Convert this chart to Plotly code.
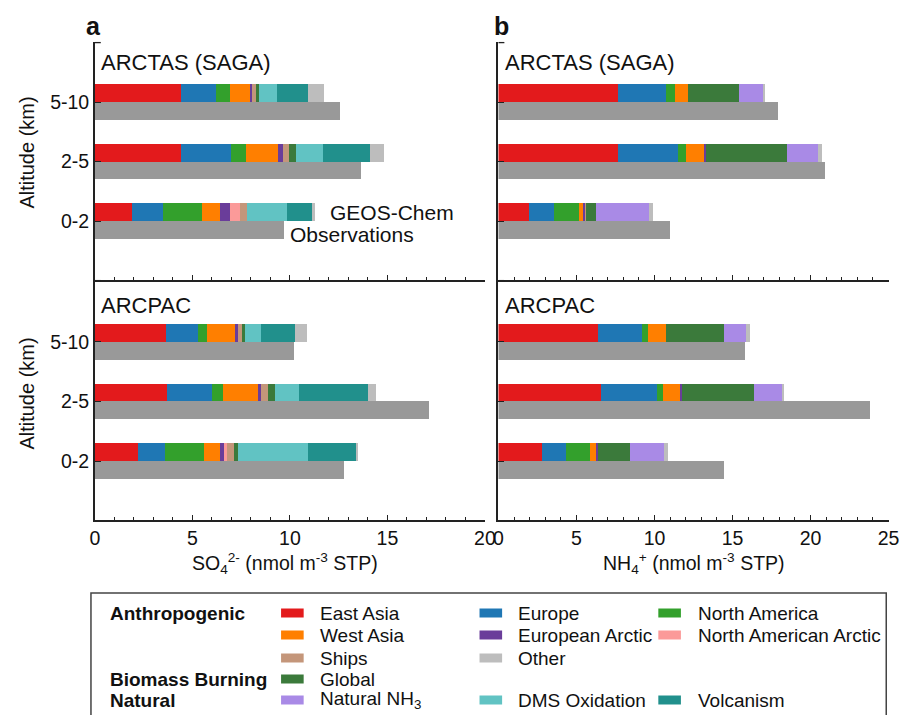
import plotly.graph_objects as go

W, H = 911, 715

ALTITUDES = ["0-2", "2-5", "5-10"]

SOURCES = ["East Asia", "Europe", "North America", "West Asia", "European Arctic",
           "North American Arctic", "Ships", "Global", "Natural NH3", "DMS Oxidation",
           "Volcanism", "Other"]

COLORS = {
    "East Asia": "#e31a1c", "Europe": "#1f77b4", "North America": "#33a02c",
    "West Asia": "#ff7f00", "European Arctic": "#6a3d9a", "North American Arctic": "#fb9a99",
    "Ships": "#c4967a", "Other": "#bdbdbd", "Global": "#3b7a3b",
    "Natural NH3": "#a98ae6", "DMS Oxidation": "#61c3c3", "Volcanism": "#21908c",
}
OBS_COLOR = "#999999"

# values per altitude bin [0-2, 2-5, 5-10], nmol m-3 STP
SO4_ARCTAS = {
    "East Asia": [1.89, 4.42, 4.43], "Europe": [1.60, 2.57, 1.76],
    "North America": [2.02, 0.74, 0.72], "West Asia": [0.92, 1.63, 1.04],
    "European Arctic": [0.50, 0.27, 0.09], "North American Arctic": [0.50, 0.0, 0.0],
    "Ships": [0.35, 0.32, 0.25], "Global": [0.0, 0.35, 0.10],
    "Natural NH3": [0.0, 0.0, 0.0], "DMS Oxidation": [2.07, 1.41, 0.94],
    "Volcanism": [1.29, 2.37, 1.60], "Other": [0.12, 0.76, 0.81],
}
SO4_ARCTAS_OBS = [9.70, 13.66, 12.58]

SO4_ARCPAC = {
    "East Asia": [2.23, 3.70, 3.64], "Europe": [1.34, 2.28, 1.63],
    "North America": [2.00, 0.57, 0.45], "West Asia": [0.82, 1.79, 1.51],
    "European Arctic": [0.25, 0.17, 0.09], "North American Arctic": [0.12, 0.0, 0.0],
    "Ships": [0.38, 0.35, 0.22], "Global": [0.19, 0.35, 0.15],
    "Natural NH3": [0.0, 0.0, 0.0], "DMS Oxidation": [3.59, 1.24, 0.81],
    "Volcanism": [2.44, 3.53, 1.73], "Other": [0.12, 0.45, 0.65],
}
SO4_ARCPAC_OBS = [12.79, 17.15, 10.22]

NH4_ARCTAS = {
    "East Asia": [1.99, 7.66, 7.70], "Europe": [1.58, 3.89, 3.06],
    "North America": [1.60, 0.52, 0.57], "West Asia": [0.32, 1.12, 0.82],
    "European Arctic": [0.09, 0.13, 0.0], "North American Arctic": [0.0, 0.0, 0.0],
    "Ships": [0.06, 0.0, 0.0], "Global": [0.65, 5.23, 3.28],
    "Natural NH3": [3.42, 1.97, 1.54], "DMS Oxidation": [0.0, 0.0, 0.0],
    "Volcanism": [0.0, 0.0, 0.0], "Other": [0.23, 0.25, 0.16],
}
NH4_ARCTAS_OBS = [11.02, 20.95, 17.94]

NH4_ARCPAC = {
    "East Asia": [2.85, 6.63, 6.40], "Europe": [1.49, 3.55, 2.84],
    "North America": [1.56, 0.42, 0.38], "West Asia": [0.40, 1.11, 1.12],
    "European Arctic": [0.11, 0.11, 0.0], "North American Arctic": [0.0, 0.0, 0.0],
    "Ships": [0.0, 0.0, 0.0], "Global": [2.04, 4.62, 3.74],
    "Natural NH3": [2.19, 1.79, 1.43], "DMS Oxidation": [0.0, 0.0, 0.0],
    "Volcanism": [0.0, 0.0, 0.0], "Other": [0.25, 0.05, 0.23],
}
NH4_ARCPAC_OBS = [14.49, 23.87, 15.81]

LEGEND_ROWS = [
    ("Anthropogenic", ["East Asia", "Europe", "North America"]),
    ("", ["West Asia", "European Arctic", "North American Arctic"]),
    ("", ["Ships", "Other"]),
    ("Biomass Burning", ["Global"]),
    ("Natural", ["Natural NH3", "DMS Oxidation", "Volcanism"]),
]
LEGEND_LABELS = {"Natural NH3": "Natural NH<sub>3</sub>"}

FONT = "Liberation Sans, Arial, sans-serif"


def px(x):
    return x / W


def py(y):
    return 1 - y / H


fig = go.Figure()
panels = [
    ("x", "y", SO4_ARCTAS, SO4_ARCTAS_OBS),
    ("x2", "y2", SO4_ARCPAC, SO4_ARCPAC_OBS),
    ("x3", "y3", NH4_ARCTAS, NH4_ARCTAS_OBS),
    ("x4", "y4", NH4_ARCPAC, NH4_ARCPAC_OBS),
]
pos = list(range(len(ALTITUDES)))
for xa, ya, comp, obs in panels:
    for s in SOURCES:
        fig.add_trace(go.Bar(
            x=comp[s], y=[p + 0.15 for p in pos], orientation="h", width=0.3,
            marker=dict(color=COLORS[s], line=dict(width=0)), name=s,
            xaxis=xa, yaxis=ya, showlegend=False))
    fig.add_trace(go.Bar(
        x=obs, y=[p - 0.15 for p in pos], orientation="h", width=0.3,
        marker=dict(color=OBS_COLOR, line=dict(width=0)), name="Observations",
        xaxis=xa, yaxis=ya, showlegend=False))

XA = [px(91.5), px(488.5)]
XB = [px(502.3), px(899.3)]
YT = [py(280), py(42)]
YB = [py(520), py(280)]

axcol = "#222222"


def xaxis(domain, anchor, rng, labels):
    return dict(domain=domain, anchor=anchor, range=rng, showline=True, linecolor=axcol,
                linewidth=1.6, ticks="inside", ticklen=5, tickwidth=1.3, tickcolor=axcol,
                dtick=5, tick0=0, showgrid=False, zeroline=False, showticklabels=labels,
                tickfont=dict(size=19.5, color="#111"), fixedrange=True,
                minor=dict(dtick=1, ticks="inside", ticklen=3, tickwidth=1.2, tickcolor=axcol,
                           showgrid=False))


def yaxis(domain, anchor, rng, labels):
    return dict(domain=domain, anchor=anchor, range=rng, showline=True, linecolor=axcol,
                linewidth=1.6, ticks="inside", ticklen=6, tickwidth=1.3, tickcolor=axcol,
                tickvals=pos, ticktext=ALTITUDES, showticklabels=labels,
                showgrid=False, zeroline=False, tickfont=dict(size=19.5, color="#111"),
                fixedrange=True)


shapes = []
annotations = []

# small hooks at the top of each y axis
for xd in (XA, XB):
    for ytop in (42, 280):
        shapes.append(dict(type="line", xref="paper", yref="paper", x0=xd[0], x1=xd[0] + px(6),
                           y0=py(ytop + 0.6), y1=py(ytop + 0.6), line=dict(color=axcol, width=1.3)))

# legend box
shapes.append(dict(type="rect", xref="paper", yref="paper", x0=px(87.5), x1=px(897),
                   y0=py(725), y1=py(593), line=dict(color="#444", width=1.5),
                   fillcolor="rgba(0,0,0,0)"))
row_y = [613, 635, 658, 679, 700]
sw_x = [281, 483, 665]
tx_x = [319, 520, 703]
for (head, items), ry in zip(LEGEND_ROWS, row_y):
    if head:
        annotations.append(dict(xref="paper", yref="paper", x=px(105), y=py(ry), text=f"<b>{head}</b>",
                                showarrow=False, xanchor="left", yanchor="middle",
                                font=dict(size=19, color="#111", family=FONT)))
    for i, it in enumerate(items):
        shapes.append(dict(type="rect", xref="paper", yref="paper", x0=px(sw_x[i]), x1=px(sw_x[i] + 23),
                           y0=py(ry + 4.5), y1=py(ry - 4.5), line=dict(width=0),
                           fillcolor=COLORS[it]))
        annotations.append(dict(xref="paper", yref="paper", x=px(tx_x[i]), y=py(ry),
                                text=LEGEND_LABELS.get(it, it), showarrow=False,
                                xanchor="left", yanchor="middle",
                                font=dict(size=19, color="#111", family=FONT)))

texts = [
    (90.5, 26, "<b>a</b>", 25, "center"),
    (505, 26, "<b>b</b>", 25, "center"),
    (96, 63, "ARCTAS (SAGA)", 22, "left"),
    (96, 305, "ARCPAC", 22, "left"),
    (507, 63, "ARCTAS (SAGA)", 22, "left"),
    (507, 305, "ARCPAC", 22, "left"),
    (329, 212, "GEOS-Chem", 21, "left"),
    (288, 234, "Observations", 21, "left"),
    (285, 563, "SO<sub>4</sub><sup>2-</sup> (nmol m<sup>-3</sup> STP)", 19.5, "center"),
    (701, 563, "NH<sub>4</sub><sup>+</sup> (nmol m<sup>-3</sup> STP)", 19.5, "center"),
]
for x, y, t, s, anc in texts:
    annotations.append(dict(xref="paper", yref="paper", x=px(x), y=py(y), text=t, showarrow=False,
                            xanchor=anc, yanchor="middle", font=dict(size=s, color="#111", family=FONT)))
for yc in (153, 394):
    annotations.append(dict(xref="paper", yref="paper", x=px(22), y=py(yc), text="Altitude (km)",
                            showarrow=False, textangle=-90, xanchor="center", yanchor="middle",
                            font=dict(size=20, color="#111", family=FONT)))

fig.update_layout(
    width=W, height=H, margin=dict(l=0, r=0, t=0, b=0),
    paper_bgcolor="white", plot_bgcolor="white", barmode="stack", bargap=0,
    font=dict(family=FONT, size=19, color="#111"),
    xaxis=xaxis(XA, "y", [0, 20], False),
    yaxis=yaxis(YT, "x", [-0.99, 3.01], True),
    xaxis2=xaxis(XA, "y2", [0, 20], True),
    yaxis2=yaxis(YB, "x2", [-0.99, 3.04], True),
    xaxis3=xaxis(XB, "y3", [0, 25], False),
    yaxis3=yaxis(YT, "x3", [-0.99, 3.01], False),
    xaxis4=xaxis(XB, "y4", [0, 25], True),
    yaxis4=yaxis(YB, "x4", [-0.99, 3.04], False),
    shapes=shapes, annotations=annotations, showlegend=False,
)

fig.write_html("out.html", config={"displayModeBar": False})
